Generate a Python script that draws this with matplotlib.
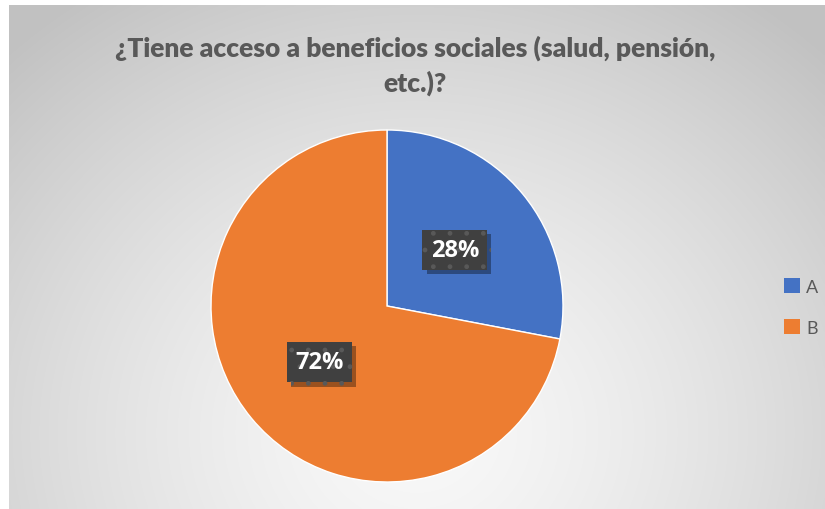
import numpy as np
import matplotlib
matplotlib.use("Agg")
import matplotlib.pyplot as plt
from matplotlib.patches import Rectangle
import matplotlib.patheffects as pe

title = "¿Tiene acceso a beneficios sociales (salud, pensión,\netc.)?"
categories = ["A", "B"]
values = [28, 72]
colors = ["#4472C4", "#ED7D31"]

W, H = 825, 510
fig = plt.figure(figsize=(W / 100, H / 100), dpi=100)
fig.patch.set_facecolor("white")

# background gradient panel
x0, y0 = 9, 6
bg = fig.add_axes([x0 / W, 0, 1 - x0 / W, 1 - y0 / H])
bg.set_axis_off()
nx, ny = 400, 250
xx, yy = np.meshgrid(np.linspace(0, 1, nx), np.linspace(0, 1, ny))
cx, cy = 0.5, 0.15
d = np.sqrt(((xx - cx) / 0.72) ** 2 + ((yy - cy) / 1.05) ** 2)
d = np.clip(d, 0, 1)
lo, hi = 0.975, 0.76
val = lo + (hi - lo) * d ** 1.4
img = np.dstack([val, val, val])
bg.imshow(img, origin="lower", extent=[0, 1, 0, 1], aspect="auto", interpolation="bilinear")
bg.set_xlim(0, 1)
bg.set_ylim(0, 1)

# pie axes
cxp, cyp, r = 387, 307, 176
ax = fig.add_axes([(cxp - r) / W, (H - cyp - r) / H, 2 * r / W, 2 * r / H])
wedges, _ = ax.pie(values, colors=colors, startangle=90, counterclock=False,
                   radius=1, wedgeprops=dict(linewidth=1, edgecolor="white"))
ax.set_xlim(-1, 1)
ax.set_ylim(-1, 1)
ax.set_aspect("equal")

# labels
total = sum(values)
cum = 0
for v in values:
    mid = 90 - (cum + v / 2) / total * 360
    cum += v
    lx = 0.5 * np.cos(np.radians(mid))
    ly = 0.5 * np.sin(np.radians(mid))
    txt = f"{round(v / total * 100)}%"
    t = ax.text(lx, ly, txt, ha="center", va="center", fontsize=17, fontweight="bold",
                family="Open Sans", color="white",
                bbox=dict(boxstyle="square,pad=0.35", facecolor="#404040", edgecolor="#595959",
                          linewidth=0, hatch="."))
    t.get_bbox_patch().set_path_effects([
        pe.SimplePatchShadow(offset=(3, -3), shadow_rgbFace="black", alpha=0.35),
        pe.Normal()])

# title
fig.text(415 / W, 1 - 66 / H, title, ha="center", va="center", fontsize=19,
         fontweight="heavy", family="Lato", color="#595959", linespacing=1.45)

# legend
handles = [Rectangle((0, 0), 1, 1, facecolor=c) for c in colors]
leg = fig.legend(handles, categories, loc="center left", bbox_to_anchor=(768 / W, 1 - 308 / H),
                 frameon=False, prop=dict(family="Lato", size=13), labelcolor="#595959",
                 handlelength=0.85, handleheight=0.85, handletextpad=0.35, labelspacing=1.35)

fig.savefig("out.png", dpi=100)
